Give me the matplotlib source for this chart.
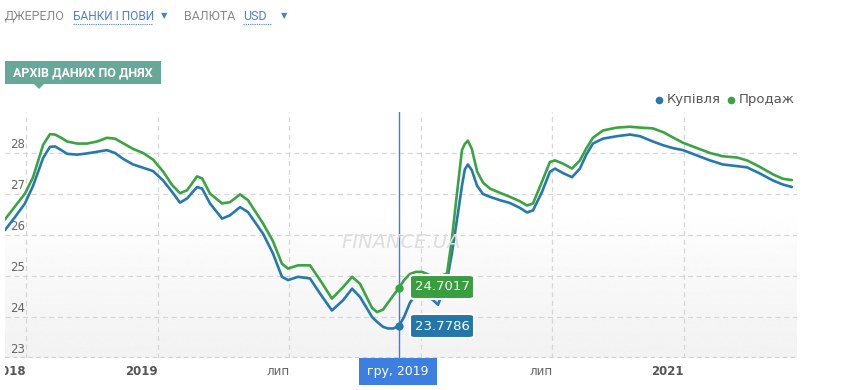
import numpy as np
import matplotlib
matplotlib.use("Agg")
import matplotlib.pyplot as plt
from matplotlib.patches import FancyBboxPatch, Rectangle, Polygon
from matplotlib.lines import Line2D
from matplotlib.transforms import Bbox, TransformedBbox

# ---------------- data ----------------
months = [-0.96, -0.50, -0.05, 0.32, 0.78, 1.09, 1.32, 1.64, 1.87, 2.33, 2.78, 3.24,
          3.69, 4.06, 4.42, 4.88, 5.34, 5.79, 6.25, 6.66, 7.02, 7.34, 7.80, 8.03,
          8.39, 8.94, 9.30, 9.76, 10.12, 10.81, 11.26, 11.67, 11.95, 12.40, 12.95,
          13.41, 13.95, 14.46, 14.87, 15.23, 15.78, 16.01, 16.28, 16.51, 16.74, 17.00,
          17.24, 17.51, 17.78, 18.06, 18.42, 18.79, 19.20, 19.42, 19.65, 19.88, 20.01,
          20.15, 20.33, 20.57, 20.84, 21.16, 21.61, 22.07, 22.53, 22.85, 23.12, 23.53,
          23.89, 24.12, 24.49, 24.90, 25.26, 25.54, 25.85, 26.31, 26.95, 27.54, 28.00,
          28.59, 29.05, 29.50, 29.96, 30.60, 31.19, 31.78, 32.42, 32.88, 33.47, 34.06,
          34.52, 34.93]

buy = [26.12, 26.44, 26.77, 27.20, 27.88, 28.15, 28.16, 28.06, 27.98, 27.96, 27.99, 28.03,
       28.07, 28.00, 27.86, 27.72, 27.64, 27.56, 27.33, 27.05, 26.79, 26.89, 27.17, 27.13,
       26.77, 26.40, 26.48, 26.68, 26.56, 26.03, 25.55, 24.98, 24.90, 24.98, 24.94,
       24.57, 24.16, 24.41, 24.69, 24.49, 24.00, 23.88, 23.76, 23.72, 23.72, 23.7786,
       24.00, 24.35, 24.55, 24.60, 24.48, 24.30, 24.90, 25.55, 26.36, 27.20, 27.60,
       27.72, 27.58, 27.20, 27.00, 26.93, 26.85, 26.78, 26.66, 26.55, 26.60, 27.05,
       27.54, 27.62, 27.51, 27.41, 27.62, 27.95, 28.23, 28.35, 28.41, 28.45, 28.41,
       28.28, 28.19, 28.12, 28.07, 27.94, 27.82, 27.72, 27.68, 27.65, 27.50, 27.33,
       27.23, 27.17]

sell = [26.38, 26.70, 27.01, 27.41, 28.20, 28.46, 28.45, 28.36, 28.28, 28.23, 28.23, 28.28,
        28.37, 28.35, 28.24, 28.10, 28.00, 27.84, 27.55, 27.22, 27.02, 27.09, 27.43, 27.38,
        27.01, 26.77, 26.80, 26.99, 26.85, 26.28, 25.85, 25.30, 25.18, 25.26, 25.26,
        24.90, 24.45, 24.73, 24.98, 24.81, 24.22, 24.12, 24.18, 24.35, 24.52, 24.7017,
        24.90, 25.05, 25.10, 25.10, 25.02, 24.98, 25.06, 25.90, 27.00, 28.07, 28.22,
        28.30, 28.10, 27.55, 27.28, 27.13, 27.03, 26.93, 26.82, 26.72, 26.77, 27.30,
        27.78, 27.82, 27.74, 27.62, 27.82, 28.10, 28.37, 28.55, 28.62, 28.64, 28.62,
        28.60, 28.51, 28.38, 28.25, 28.12, 28.00, 27.92, 27.89, 27.82, 27.66, 27.48,
        27.37, 27.34]

tick_months = [0, 6, 12, 18, 24, 30]
tick_labels = ["2018", "2019", "лип", "", "лип", "2021"]   # 2020 label hidden under crosshair label
tick_bold = [True, True, False, True, False, True]
y_ticks = [23, 24, 25, 26, 27, 28]

cross_month = 17.0
cross_label = "гру, 2019"
cross_buy = 23.7786
cross_sell = 24.7017

BLUE = "#2578b0"
GREEN = "#3aa442"

W, H = 842, 390
def fx(px): return px / W
def fy(py): return 1 - py / H

fig = plt.figure(figsize=(W / 100, H / 100), dpi=100)
fig.patch.set_facecolor("white")

# ---------------- main axes ----------------
left_px, right_px, top_px, bot_px = 5, 797, 112, 358
ax = fig.add_axes([fx(left_px), fy(bot_px), fx(right_px) - fx(left_px), (bot_px - top_px) / H])
ax.set_xlim(-0.96, 35.16)
ax.set_ylim(23, 29)
for s in ax.spines.values():
    s.set_visible(False)
ax.set_xticks([]); ax.set_yticks([])
ax.patch.set_alpha(0)

# gradient background
yy = np.linspace(1, 0, 400)
g = np.clip((0.6 - yy) / 0.6, 0, 1)
grad = (1.0 - 0.05 * g ** 0.8)[:, None]
ax.imshow(grad, cmap="gray", vmin=0, vmax=1, extent=[0, 1, 0, 1], transform=ax.transAxes,
          aspect="auto", zorder=0, interpolation="bilinear")

for v in y_ticks[1:]:
    ax.axhline(v, color="#d6d6d6", lw=0.9, ls=(0, (4, 3)), zorder=1)
ax.axhline(23, color="#d0d0d0", lw=1.6, ls=(0, (2, 1.5)), zorder=1)
for m in tick_months:
    ax.axvline(m, color="#d6d6d6", lw=0.9, ls=(0, (4, 3)), zorder=1)

# y labels inside plot
for v in y_ticks:
    ax.text((10 - left_px) / (right_px - left_px), v + 0.2, str(v), transform=ax.get_yaxis_transform(),
            ha="left", va="center", fontsize=8.5, color="#666666", family="DejaVu Sans", zorder=2)

# watermark
fig.text(fx(401), fy(242), "FINANCE.UA", ha="center", va="center", fontsize=14,
         style="italic", color="#dedede", family="DejaVu Sans", zorder=1)

# lines
ax.plot(months, buy, color=BLUE, lw=1.9, zorder=4, solid_joinstyle="round", solid_capstyle="round")
ax.plot(months, sell, color=GREEN, lw=1.9, zorder=4, solid_joinstyle="round", solid_capstyle="round")

# crosshair
ax.axvline(cross_month, color="#3b7fe0", lw=1.0, zorder=5)
ax.plot([cross_month], [cross_sell], "o", color=GREEN, ms=5, zorder=6)
ax.plot([cross_month], [cross_buy], "o", color=BLUE, ms=5, zorder=6)

# x tick labels
for m, lab, b in zip(tick_months, tick_labels, tick_bold):
    if not lab:
        continue
    t = ax.text(m, -0.03, lab, transform=ax.get_xaxis_transform(), ha="right", va="top",
                fontsize=8.5, fontweight="bold" if b else "normal",
                color="#555555" if b else "#666666", family="DejaVu Sans", zorder=2)
    t.set_clip_box(TransformedBbox(Bbox([[fx(5), 0], [1, 1]]), fig.transFigure))
    t.set_clip_on(True)

# tooltips
def tooltip(x0, y0, w, h, color, text):
    p = FancyBboxPatch((fx(x0), fy(y0 + h)), fx(w), h / H,
                       boxstyle="round,pad=0,rounding_size=0.006", transform=fig.transFigure,
                       facecolor=color, edgecolor="white", lw=1.5, zorder=10)
    fig.add_artist(p)
    fig.text(fx(x0 + w / 2), fy(y0 + h / 2), text, ha="center", va="center", color="white",
             fontsize=9.5, family="DejaVu Sans", zorder=11)

tooltip(410, 275, 64, 24, "#389e3e", f"{cross_sell:.4f}")
tooltip(410, 314, 64, 24, "#2476a8", f"{cross_buy:.4f}")

# crosshair label
fig.add_artist(Rectangle((fx(359), fy(385)), fx(78), 27 / H, transform=fig.transFigure,
                         facecolor="#3d7fe0", edgecolor="none", zorder=10))
fig.text(fx(398), fy(371.5), cross_label, ha="center", va="center", color="white",
         fontsize=9, family="DejaVu Sans", zorder=11)

# legend
fig.add_artist(Line2D([fx(659)], [fy(100)], marker="o", color=BLUE, ms=4.5, transform=fig.transFigure))
fig.text(fx(667), fy(100), "Купівля", ha="left", va="center", fontsize=9.5, color="#555555",
         family="DejaVu Sans")
fig.add_artist(Line2D([fx(731)], [fy(100)], marker="o", color=GREEN, ms=4.5, transform=fig.transFigure))
fig.text(fx(739), fy(100), "Продаж", ha="left", va="center", fontsize=9.5, color="#555555",
         family="DejaVu Sans")

# header
HF = ["Roboto", "DejaVu Sans"]
fig.text(fx(5), fy(16), "ДЖЕРЕЛО", ha="left", va="center", fontsize=9, color="#8a8a8a", family=HF)
fig.text(fx(73), fy(16), "БАНКИ І ПОВИ", ha="left", va="center", fontsize=8.6, color="#4a7fdc", family=HF)
fig.add_artist(Line2D([fx(73), fx(152)], [fy(23.5), fy(23.5)], color="#4a7fdc", lw=0.8,
                      ls=(0, (1, 1)), transform=fig.transFigure))
fig.text(fx(164.5), fy(16), "▼", ha="center", va="center", fontsize=6, color="#4a7fdc", family="DejaVu Sans")
fig.text(fx(184), fy(16), "ВАЛЮТА", ha="left", va="center", fontsize=9, color="#8a8a8a", family=HF)
fig.text(fx(243), fy(16), "USD", ha="left", va="center", fontsize=9, color="#4a7fdc", family=HF)
fig.add_artist(Line2D([fx(243), fx(271)], [fy(23.5), fy(23.5)], color="#4a7fdc", lw=0.8,
                      ls=(0, (1, 1)), transform=fig.transFigure))
fig.text(fx(284), fy(16), "▼", ha="center", va="center", fontsize=6, color="#4a7fdc", family="DejaVu Sans")

# title badge
fig.add_artist(Rectangle((fx(5), fy(84)), fx(156), 23 / H, transform=fig.transFigure,
                         facecolor="#67a898", edgecolor="none"))
fig.add_artist(Polygon([[fx(34), fy(84)], [fx(44), fy(84)], [fx(39), fy(89)]], closed=True,
                       transform=fig.transFigure, facecolor="#67a898", edgecolor="none"))
fig.text(fx(83), fy(73), "АРХІВ ДАНИХ ПО ДНЯХ", ha="center", va="center", fontsize=9,
         fontweight="bold", fontstretch="condensed", color="white", family=HF)

fig.savefig("out.png", dpi=100, facecolor="white")
